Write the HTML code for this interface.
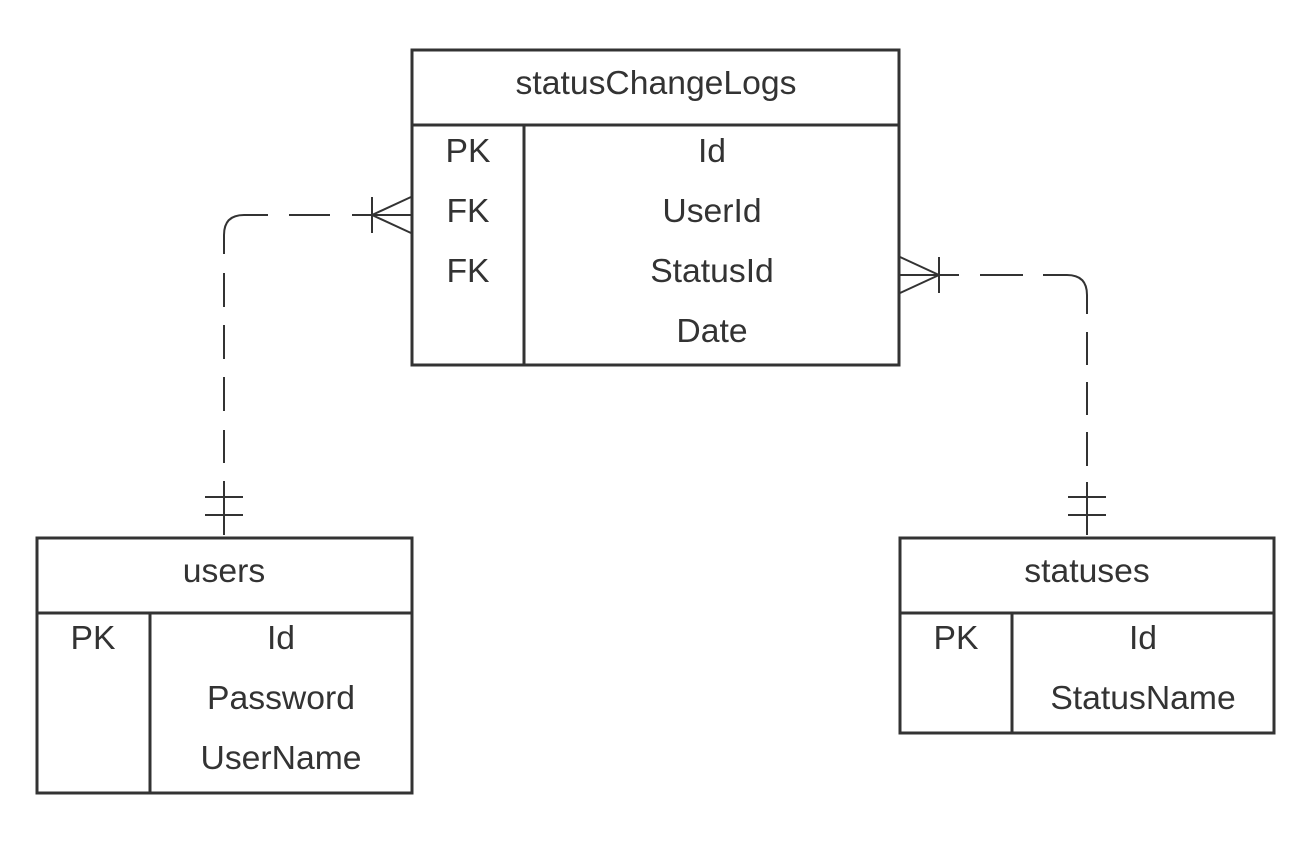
<!DOCTYPE html>
<html><head><style>body{margin:0;background:#fff}svg{display:block}text{font-family:"Liberation Sans",sans-serif;font-size:33.7px;fill:#333;text-anchor:middle;dominant-baseline:central}</style></head>
<body>
<svg width="1306" height="844" viewBox="0 0 1306 844">
<g fill="none" stroke="#333" stroke-width="2">
<path d="M352 215 H411 M289 215 H330 M268 215 H244 Q224 215 224 235 V254 M224 273 V307 M224 325 V359 M224 377 V411 M224 430 V463 M224 481 V535"/>
<path d="M372 197 V233 M372 215 L411 197 M372 215 L411 233"/>
<path d="M205 497 H243 M205 515 H243"/>
<path d="M900 275 H959 M980 275 H1023 M1043 275 H1067 Q1087 275 1087 295 V314 M1087 332 V365 M1087 382 V415 M1087 432 V466 M1087 482 V535"/>
<path d="M939 257 V293 M939 275 L900 257 M939 275 L900 293"/>
<path d="M1068 497 H1106 M1068 515 H1106"/>
</g>
<g fill="none" stroke="#333" stroke-width="3">
<rect x="412" y="50" width="487" height="315"/>
<path d="M412 125 H899 M524 125 V365"/>
<rect x="37" y="538" width="375" height="255"/>
<path d="M37 613 H412 M150 613 V793"/>
<rect x="900" y="538" width="374" height="195"/>
<path d="M900 613 H1274 M1012 613 V733"/>
</g>
<text x="656" y="83">statusChangeLogs</text>
<text x="468" y="151">PK</text><text x="712" y="151">Id</text>
<text x="468" y="211">FK</text><text x="712" y="211">UserId</text>
<text x="468" y="271">FK</text><text x="712" y="271">StatusId</text>
<text x="712" y="331">Date</text>
<text x="224" y="571">users</text>
<text x="93" y="638">PK</text><text x="281" y="638">Id</text>
<text x="281" y="698">Password</text>
<text x="281" y="758">UserName</text>
<text x="1087" y="571">statuses</text>
<text x="956" y="638">PK</text><text x="1143" y="638">Id</text>
<text x="1143" y="698">StatusName</text>
</svg>
</body></html>
